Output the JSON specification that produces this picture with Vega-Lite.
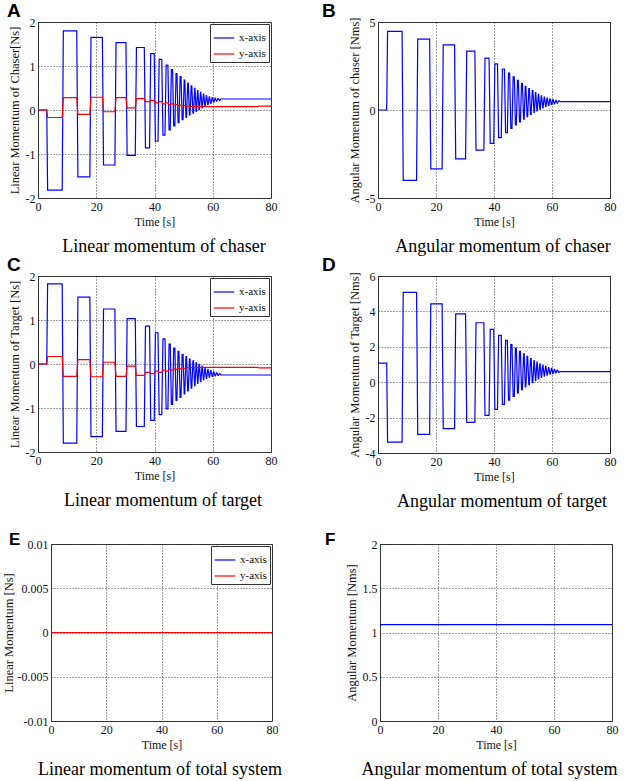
{
"$schema": "https://vega.github.io/schema/vega-lite/v6.json",
"padding": {"left": 1, "top": 1, "right": 0, "bottom": 0},
"background": "white",
"datasets": {
"A_x": [{"t":0,"v":0},{"t":3,"v":0},{"t":3.3,"v":-1.82},{"t":8.3,"v":-1.82},{"t":8.7,"v":1.8},{"t":13.3,"v":1.8},{"t":13.7,"v":-1.52},{"t":17.8,"v":-1.52},{"t":18.2,"v":1.65},{"t":22.1,"v":1.65},{"t":22.5,"v":-1.25},{"t":26.4,"v":-1.25},{"t":26.8,"v":1.53},{"t":30.2,"v":1.53},{"t":30.6,"v":-1.03},{"t":33.4,"v":-1.03},{"t":33.8,"v":1.42},{"t":36.5,"v":1.42},{"t":36.9,"v":-0.86},{"t":38.3,"v":-0.86},{"t":38.7,"v":1.28},{"t":39.9,"v":1.28},{"t":40.3,"v":-0.71},{"t":41.2,"v":-0.71},{"t":41.6,"v":1.15},{"t":42.5,"v":1.15},{"t":42.9,"v":-0.57},{"t":43.6,"v":-0.57},{"t":44,"v":1.02},{"t":44.6,"v":1.02},{"t":45,"v":-0.45},{"t":45.4,"v":-0.45},{"t":45.8,"v":0.92},{"t":46.2,"v":0.92},{"t":46.6,"v":-0.36},{"t":47,"v":-0.36},{"t":47.4,"v":0.83},{"t":47.7,"v":0.83},{"t":48.1,"v":-0.29},{"t":48.4,"v":-0.29},{"t":48.8,"v":0.76},{"t":49.1,"v":0.76},{"t":49.5,"v":-0.22},{"t":49.8,"v":-0.22},{"t":50.2,"v":0.68},{"t":50.4,"v":0.68},{"t":50.8,"v":-0.17},{"t":51,"v":-0.17},{"t":51.4,"v":0.61},{"t":51.6,"v":0.61},{"t":52,"v":-0.11},{"t":52.2,"v":-0.11},{"t":52.6,"v":0.55},{"t":52.8,"v":0.55},{"t":53.2,"v":-0.07},{"t":53.4,"v":-0.07},{"t":53.8,"v":0.49},{"t":53.9,"v":0.49},{"t":54.3,"v":-0.03},{"t":54.4,"v":-0.03},{"t":54.8,"v":0.44},{"t":54.9,"v":0.44},{"t":55.3,"v":0.01},{"t":55.4,"v":0.01},{"t":55.8,"v":0.4},{"t":55.9,"v":0.4},{"t":56.3,"v":0.05},{"t":56.4,"v":0.05},{"t":56.8,"v":0.36},{"t":56.9,"v":0.36},{"t":57.3,"v":0.09},{"t":57.4,"v":0.09},{"t":57.8,"v":0.33},{"t":57.9,"v":0.33},{"t":58.3,"v":0.12},{"t":58.4,"v":0.12},{"t":58.8,"v":0.3},{"t":58.9,"v":0.3},{"t":59.3,"v":0.15},{"t":59.4,"v":0.15},{"t":59.8,"v":0.28},{"t":59.9,"v":0.28},{"t":60.3,"v":0.18},{"t":60.4,"v":0.18},{"t":60.8,"v":0.27},{"t":60.9,"v":0.27},{"t":61.3,"v":0.2},{"t":61.4,"v":0.2},{"t":61.8,"v":0.26},{"t":61.9,"v":0.26},{"t":62.3,"v":0.22},{"t":62.4,"v":0.22},{"t":62.8,"v":0.25},{"t":80,"v":0.25}],
"A_y": [{"t":0,"v":0},{"t":3,"v":0},{"t":3.3,"v":-0.17},{"t":8.3,"v":-0.17},{"t":8.7,"v":0.28},{"t":13.3,"v":0.28},{"t":13.7,"v":-0.1},{"t":17.8,"v":-0.1},{"t":18.2,"v":0.29},{"t":22.1,"v":0.29},{"t":22.5,"v":-0.04},{"t":26.4,"v":-0.04},{"t":26.8,"v":0.28},{"t":30.2,"v":0.28},{"t":30.6,"v":0.05},{"t":33.4,"v":0.05},{"t":33.8,"v":0.26},{"t":36.5,"v":0.26},{"t":36.9,"v":0.19},{"t":38.3,"v":0.19},{"t":38.7,"v":0.22},{"t":39.9,"v":0.22},{"t":40.3,"v":0.16},{"t":41.2,"v":0.16},{"t":41.6,"v":0.19},{"t":42.5,"v":0.19},{"t":42.9,"v":0.14},{"t":43.6,"v":0.14},{"t":44,"v":0.16},{"t":44.6,"v":0.16},{"t":45,"v":0.12},{"t":45.4,"v":0.12},{"t":45.8,"v":0.14},{"t":46.2,"v":0.14},{"t":46.6,"v":0.11},{"t":47,"v":0.11},{"t":47.4,"v":0.12},{"t":47.7,"v":0.12},{"t":48.1,"v":0.1},{"t":48.4,"v":0.1},{"t":48.8,"v":0.11},{"t":49.1,"v":0.11},{"t":49.5,"v":0.09},{"t":49.8,"v":0.09},{"t":50.2,"v":0.1},{"t":50.4,"v":0.1},{"t":50.8,"v":0.085},{"t":51,"v":0.085},{"t":52,"v":0.08},{"t":60,"v":0.075},{"t":75.5,"v":0.075},{"t":75.8,"v":0.09},{"t":80,"v":0.09}],
"B": [{"t":0,"v":0},{"t":3,"v":0},{"t":3.3,"v":4.47},{"t":8.3,"v":4.47},{"t":8.7,"v":-4},{"t":13.3,"v":-4},{"t":13.7,"v":4.03},{"t":17.8,"v":4.03},{"t":18.2,"v":-3.35},{"t":22.1,"v":-3.35},{"t":22.5,"v":3.7},{"t":26.4,"v":3.7},{"t":26.8,"v":-2.78},{"t":30.2,"v":-2.78},{"t":30.6,"v":3.35},{"t":33.4,"v":3.35},{"t":33.8,"v":-2.28},{"t":36.5,"v":-2.28},{"t":36.9,"v":2.95},{"t":38.3,"v":2.95},{"t":38.7,"v":-1.9},{"t":39.9,"v":-1.9},{"t":40.3,"v":2.62},{"t":41.2,"v":2.62},{"t":41.6,"v":-1.57},{"t":42.5,"v":-1.57},{"t":42.9,"v":2.33},{"t":43.6,"v":2.33},{"t":44,"v":-1.29},{"t":44.6,"v":-1.29},{"t":45,"v":2.1},{"t":45.4,"v":2.1},{"t":45.8,"v":-1.04},{"t":46.2,"v":-1.04},{"t":46.6,"v":1.88},{"t":47,"v":1.88},{"t":47.4,"v":-0.85},{"t":47.7,"v":-0.85},{"t":48.1,"v":1.68},{"t":48.4,"v":1.68},{"t":48.8,"v":-0.67},{"t":49.1,"v":-0.67},{"t":49.5,"v":1.5},{"t":49.8,"v":1.5},{"t":50.2,"v":-0.52},{"t":50.4,"v":-0.52},{"t":50.8,"v":1.35},{"t":51,"v":1.35},{"t":51.4,"v":-0.38},{"t":51.6,"v":-0.38},{"t":52,"v":1.22},{"t":52.2,"v":1.22},{"t":52.6,"v":-0.25},{"t":52.8,"v":-0.25},{"t":53.2,"v":1.1},{"t":53.4,"v":1.1},{"t":53.8,"v":-0.14},{"t":53.9,"v":-0.14},{"t":54.3,"v":0.99},{"t":54.4,"v":0.99},{"t":54.8,"v":-0.05},{"t":54.9,"v":-0.05},{"t":55.3,"v":0.89},{"t":55.4,"v":0.89},{"t":55.8,"v":0.04},{"t":55.9,"v":0.04},{"t":56.3,"v":0.81},{"t":56.4,"v":0.81},{"t":56.8,"v":0.12},{"t":56.9,"v":0.12},{"t":57.3,"v":0.74},{"t":57.4,"v":0.74},{"t":57.8,"v":0.19},{"t":57.9,"v":0.19},{"t":58.3,"v":0.68},{"t":58.4,"v":0.68},{"t":58.8,"v":0.25},{"t":58.9,"v":0.25},{"t":59.3,"v":0.63},{"t":59.4,"v":0.63},{"t":59.8,"v":0.3},{"t":59.9,"v":0.3},{"t":60.3,"v":0.59},{"t":60.4,"v":0.59},{"t":60.8,"v":0.35},{"t":60.9,"v":0.35},{"t":61.3,"v":0.55},{"t":61.4,"v":0.55},{"t":61.8,"v":0.39},{"t":61.9,"v":0.39},{"t":62.3,"v":0.52},{"t":62.4,"v":0.52},{"t":62.8,"v":0.48},{"t":80,"v":0.48}],
"C_x": [{"t":0,"v":0},{"t":3,"v":0},{"t":3.3,"v":1.82},{"t":8.3,"v":1.82},{"t":8.7,"v":-1.8},{"t":13.3,"v":-1.8},{"t":13.7,"v":1.52},{"t":17.8,"v":1.52},{"t":18.2,"v":-1.65},{"t":22.1,"v":-1.65},{"t":22.5,"v":1.25},{"t":26.4,"v":1.25},{"t":26.8,"v":-1.53},{"t":30.2,"v":-1.53},{"t":30.6,"v":1.03},{"t":33.4,"v":1.03},{"t":33.8,"v":-1.42},{"t":36.5,"v":-1.42},{"t":36.9,"v":0.86},{"t":38.3,"v":0.86},{"t":38.7,"v":-1.28},{"t":39.9,"v":-1.28},{"t":40.3,"v":0.71},{"t":41.2,"v":0.71},{"t":41.6,"v":-1.15},{"t":42.5,"v":-1.15},{"t":42.9,"v":0.57},{"t":43.6,"v":0.57},{"t":44,"v":-1.02},{"t":44.6,"v":-1.02},{"t":45,"v":0.45},{"t":45.4,"v":0.45},{"t":45.8,"v":-0.92},{"t":46.2,"v":-0.92},{"t":46.6,"v":0.36},{"t":47,"v":0.36},{"t":47.4,"v":-0.83},{"t":47.7,"v":-0.83},{"t":48.1,"v":0.29},{"t":48.4,"v":0.29},{"t":48.8,"v":-0.76},{"t":49.1,"v":-0.76},{"t":49.5,"v":0.22},{"t":49.8,"v":0.22},{"t":50.2,"v":-0.68},{"t":50.4,"v":-0.68},{"t":50.8,"v":0.17},{"t":51,"v":0.17},{"t":51.4,"v":-0.61},{"t":51.6,"v":-0.61},{"t":52,"v":0.11},{"t":52.2,"v":0.11},{"t":52.6,"v":-0.55},{"t":52.8,"v":-0.55},{"t":53.2,"v":0.07},{"t":53.4,"v":0.07},{"t":53.8,"v":-0.49},{"t":53.9,"v":-0.49},{"t":54.3,"v":0.03},{"t":54.4,"v":0.03},{"t":54.8,"v":-0.44},{"t":54.9,"v":-0.44},{"t":55.3,"v":-0.01},{"t":55.4,"v":-0.01},{"t":55.8,"v":-0.4},{"t":55.9,"v":-0.4},{"t":56.3,"v":-0.05},{"t":56.4,"v":-0.05},{"t":56.8,"v":-0.36},{"t":56.9,"v":-0.36},{"t":57.3,"v":-0.09},{"t":57.4,"v":-0.09},{"t":57.8,"v":-0.33},{"t":57.9,"v":-0.33},{"t":58.3,"v":-0.12},{"t":58.4,"v":-0.12},{"t":58.8,"v":-0.3},{"t":58.9,"v":-0.3},{"t":59.3,"v":-0.15},{"t":59.4,"v":-0.15},{"t":59.8,"v":-0.28},{"t":59.9,"v":-0.28},{"t":60.3,"v":-0.18},{"t":60.4,"v":-0.18},{"t":60.8,"v":-0.27},{"t":60.9,"v":-0.27},{"t":61.3,"v":-0.2},{"t":61.4,"v":-0.2},{"t":61.8,"v":-0.26},{"t":61.9,"v":-0.26},{"t":62.3,"v":-0.22},{"t":62.4,"v":-0.22},{"t":62.8,"v":-0.25},{"t":80,"v":-0.25}],
"C_y": [{"t":0,"v":0},{"t":3,"v":0},{"t":3.3,"v":0.17},{"t":8.3,"v":0.17},{"t":8.7,"v":-0.28},{"t":13.3,"v":-0.28},{"t":13.7,"v":0.1},{"t":17.8,"v":0.1},{"t":18.2,"v":-0.29},{"t":22.1,"v":-0.29},{"t":22.5,"v":0.04},{"t":26.4,"v":0.04},{"t":26.8,"v":-0.28},{"t":30.2,"v":-0.28},{"t":30.6,"v":-0.05},{"t":33.4,"v":-0.05},{"t":33.8,"v":-0.26},{"t":36.5,"v":-0.26},{"t":36.9,"v":-0.19},{"t":38.3,"v":-0.19},{"t":38.7,"v":-0.22},{"t":39.9,"v":-0.22},{"t":40.3,"v":-0.16},{"t":41.2,"v":-0.16},{"t":41.6,"v":-0.19},{"t":42.5,"v":-0.19},{"t":42.9,"v":-0.14},{"t":43.6,"v":-0.14},{"t":44,"v":-0.16},{"t":44.6,"v":-0.16},{"t":45,"v":-0.12},{"t":45.4,"v":-0.12},{"t":45.8,"v":-0.14},{"t":46.2,"v":-0.14},{"t":46.6,"v":-0.11},{"t":47,"v":-0.11},{"t":47.4,"v":-0.12},{"t":47.7,"v":-0.12},{"t":48.1,"v":-0.1},{"t":48.4,"v":-0.1},{"t":48.8,"v":-0.11},{"t":49.1,"v":-0.11},{"t":49.5,"v":-0.09},{"t":49.8,"v":-0.09},{"t":50.2,"v":-0.1},{"t":50.4,"v":-0.1},{"t":50.8,"v":-0.085},{"t":51,"v":-0.085},{"t":52,"v":-0.08},{"t":60,"v":-0.075},{"t":75.5,"v":-0.075},{"t":75.8,"v":-0.09},{"t":80,"v":-0.09}],
"D": [{"t":0,"v":1.08},{"t":3,"v":1.08},{"t":3.3,"v":-3.39},{"t":8.3,"v":-3.39},{"t":8.7,"v":5.08},{"t":13.3,"v":5.08},{"t":13.7,"v":-2.95},{"t":17.8,"v":-2.95},{"t":18.2,"v":4.43},{"t":22.1,"v":4.43},{"t":22.5,"v":-2.62},{"t":26.4,"v":-2.62},{"t":26.8,"v":3.86},{"t":30.2,"v":3.86},{"t":30.6,"v":-2.27},{"t":33.4,"v":-2.27},{"t":33.8,"v":3.36},{"t":36.5,"v":3.36},{"t":36.9,"v":-1.87},{"t":38.3,"v":-1.87},{"t":38.7,"v":2.98},{"t":39.9,"v":2.98},{"t":40.3,"v":-1.54},{"t":41.2,"v":-1.54},{"t":41.6,"v":2.65},{"t":42.5,"v":2.65},{"t":42.9,"v":-1.25},{"t":43.6,"v":-1.25},{"t":44,"v":2.37},{"t":44.6,"v":2.37},{"t":45,"v":-1.02},{"t":45.4,"v":-1.02},{"t":45.8,"v":2.12},{"t":46.2,"v":2.12},{"t":46.6,"v":-0.8},{"t":47,"v":-0.8},{"t":47.4,"v":1.93},{"t":47.7,"v":1.93},{"t":48.1,"v":-0.6},{"t":48.4,"v":-0.6},{"t":48.8,"v":1.75},{"t":49.1,"v":1.75},{"t":49.5,"v":-0.42},{"t":49.8,"v":-0.42},{"t":50.2,"v":1.6},{"t":50.4,"v":1.6},{"t":50.8,"v":-0.27},{"t":51,"v":-0.27},{"t":51.4,"v":1.46},{"t":51.6,"v":1.46},{"t":52,"v":-0.14},{"t":52.2,"v":-0.14},{"t":52.6,"v":1.33},{"t":52.8,"v":1.33},{"t":53.2,"v":-0.02},{"t":53.4,"v":-0.02},{"t":53.8,"v":1.22},{"t":53.9,"v":1.22},{"t":54.3,"v":0.09},{"t":54.4,"v":0.09},{"t":54.8,"v":1.13},{"t":54.9,"v":1.13},{"t":55.3,"v":0.19},{"t":55.4,"v":0.19},{"t":55.8,"v":1.04},{"t":55.9,"v":1.04},{"t":56.3,"v":0.27},{"t":56.4,"v":0.27},{"t":56.8,"v":0.96},{"t":56.9,"v":0.96},{"t":57.3,"v":0.34},{"t":57.4,"v":0.34},{"t":57.8,"v":0.89},{"t":57.9,"v":0.89},{"t":58.3,"v":0.4},{"t":58.4,"v":0.4},{"t":58.8,"v":0.83},{"t":58.9,"v":0.83},{"t":59.3,"v":0.45},{"t":59.4,"v":0.45},{"t":59.8,"v":0.78},{"t":59.9,"v":0.78},{"t":60.3,"v":0.49},{"t":60.4,"v":0.49},{"t":60.8,"v":0.73},{"t":60.9,"v":0.73},{"t":61.3,"v":0.53},{"t":61.4,"v":0.53},{"t":61.8,"v":0.69},{"t":61.9,"v":0.69},{"t":62.3,"v":0.56},{"t":62.4,"v":0.56},{"t":62.8,"v":0.6},{"t":80,"v":0.6}],
"E_x": [{"t":0,"v":0},{"t":80,"v":0}],
"E_y": [{"t":0,"v":0},{"t":80,"v":0}],
"F": [{"t":0,"v":1.09},{"t":80,"v":1.09}],
"none": []
},
"config": {
"view": {"stroke": "#3a3a3a", "strokeWidth": 1},
"axis": {"labelFont": "Liberation Serif", "labelFontSize": 12, "labelColor": "#111", "titleFont": "Liberation Serif", "titleFontSize": 12, "titleFontWeight": "normal", "titleColor": "#111", "grid": true, "gridColor": "#222", "gridDash": [1, 2], "gridOpacity": 0.85, "domain": false, "ticks": false, "labelPadding": 3, "titlePadding": 4, "labelFlush": false, "labelOverlap": false, "labelBound": false},
"axisY": {"titleFontSize": 12.5},
"legend": {"orient": "top-right", "offset": 2, "fillColor": "white", "strokeColor": "#333", "padding": 3, "symbolType": "stroke", "symbolSize": 420, "symbolStrokeWidth": 1.5, "labelFont": "Liberation Serif", "labelFontSize": 11, "labelColor": "#111", "rowPadding": 0, "title": null},
"line": {"strokeWidth": 1.2},
"title": {"font": "Liberation Serif", "fontWeight": "normal", "color": "#000"}
},
"columns": 1,
"align": "none",
"spacing": 19,
"resolve": {"scale": {"color": "independent"}, "legend": {"color": "independent"}},
"concat": [
{"columns": 1, "align": "none", "spacing": -1, "resolve": {"scale": {"color": "independent"}, "legend": {"color": "independent"}},
 "concat": [
  {"spacing": 43, "resolve": {"scale": {"color": "independent"}, "legend": {"color": "independent"}},
   "hconcat": [
    {"title": {"text": "Linear momentum of chaser", "orient": "bottom", "frame": "bounds", "anchor": "middle", "dx": 22, "offset": 10, "fontSize": 18},
     "resolve": {"scale": {"color": "independent"}, "legend": {"color": "independent"}},
     "vconcat": [{
      "title": {"text": "A", "anchor": "start", "frame": "group", "dx": -31, "offset": -5, "font": "Liberation Sans", "fontSize": 19, "fontWeight": "bold"},
      "width": 233, "height": 176,
      "encoding": {
       "x": {"field": "t", "type": "quantitative", "scale": {"domain": [0, 80], "nice": false}, "axis": {"values": [0, 20, 40, 60, 80], "title": "Time [s]", "labelExpr": "'' + datum.value"}},
       "y": {"field": "v", "type": "quantitative", "scale": {"domain": [-2, 2], "nice": false}, "axis": {"values": [-2, -1, 0, 1, 2], "title": "Linear Momentum of Chaser[Ns]", "labelExpr": "'' + datum.value"}}
      },
      "layer": [
       {"data": {"name": "A_x"}, "mark": {"type": "line"}, "encoding": {"color": {"datum": "x-axis", "type": "nominal", "scale": {"domain": ["x-axis", "y-axis"], "range": ["#0000ff", "#ff0000"]}}}},
       {"data": {"name": "A_y"}, "mark": {"type": "line"}, "encoding": {"color": {"datum": "y-axis", "type": "nominal"}}}
      ]
     }]
    },
    {"title": {"text": "Angular momentum of chaser", "orient": "bottom", "frame": "bounds", "anchor": "middle", "dx": 34, "offset": 10, "fontSize": 18},
     "resolve": {"scale": {"color": "independent"}, "legend": {"color": "independent"}},
     "vconcat": [{
      "title": {"text": "B", "anchor": "start", "frame": "group", "dx": -56, "offset": -5, "font": "Liberation Sans", "fontSize": 19, "fontWeight": "bold"},
      "width": 232, "height": 176,
      "data": {"name": "B"},
      "mark": {"type": "line", "color": "#0000ff"},
      "encoding": {
       "x": {"field": "t", "type": "quantitative", "scale": {"domain": [0, 80], "nice": false}, "axis": {"values": [0, 20, 40, 60, 80], "title": "Time [s]", "labelExpr": "'' + datum.value"}},
       "y": {"field": "v", "type": "quantitative", "scale": {"domain": [-5, 5], "nice": false}, "axis": {"values": [-5, 0, 5], "title": "Angular Momentum of chaser [Nms]", "labelExpr": "'' + datum.value"}}
      }
     }]
    }
   ]
  },
  {"spacing": 43, "resolve": {"scale": {"color": "independent"}, "legend": {"color": "independent"}},
   "hconcat": [
    {"title": {"text": "Linear momentum of target", "orient": "bottom", "frame": "bounds", "anchor": "middle", "dx": 21, "offset": 10, "fontSize": 18},
     "resolve": {"scale": {"color": "independent"}, "legend": {"color": "independent"}},
     "vconcat": [{
      "title": {"text": "C", "anchor": "start", "frame": "group", "dx": -31, "offset": -5, "font": "Liberation Sans", "fontSize": 19, "fontWeight": "bold"},
      "width": 233, "height": 176,
      "encoding": {
       "x": {"field": "t", "type": "quantitative", "scale": {"domain": [0, 80], "nice": false}, "axis": {"values": [0, 20, 40, 60, 80], "title": "Time [s]", "labelExpr": "'' + datum.value"}},
       "y": {"field": "v", "type": "quantitative", "scale": {"domain": [-2, 2], "nice": false}, "axis": {"values": [-2, -1, 0, 1, 2], "title": "Linear Momentum of Target [Ns]", "labelExpr": "'' + datum.value"}}
      },
      "layer": [
       {"data": {"name": "C_x"}, "mark": {"type": "line"}, "encoding": {"color": {"datum": "x-axis", "type": "nominal", "scale": {"domain": ["x-axis", "y-axis"], "range": ["#0000ff", "#ff0000"]}}}},
       {"data": {"name": "C_y"}, "mark": {"type": "line"}, "encoding": {"color": {"datum": "y-axis", "type": "nominal"}}}
      ]
     }]
    },
    {"title": {"text": "Angular momentum of target", "orient": "bottom", "frame": "bounds", "anchor": "middle", "dx": 33, "offset": 10, "fontSize": 18},
     "resolve": {"scale": {"color": "independent"}, "legend": {"color": "independent"}},
     "vconcat": [{
      "title": {"text": "D", "anchor": "start", "frame": "group", "dx": -56, "offset": -5, "font": "Liberation Sans", "fontSize": 19, "fontWeight": "bold"},
      "width": 232, "height": 177,
      "data": {"name": "D"},
      "mark": {"type": "line", "color": "#0000ff"},
      "encoding": {
       "x": {"field": "t", "type": "quantitative", "scale": {"domain": [0, 80], "nice": false}, "axis": {"values": [0, 20, 40, 60, 80], "title": "Time [s]", "labelExpr": "'' + datum.value"}},
       "y": {"field": "v", "type": "quantitative", "scale": {"domain": [-4, 6], "nice": false}, "axis": {"values": [-4, -2, 0, 2, 4, 6], "title": "Angular Momentum of Target [Nms]", "labelExpr": "'' + datum.value"}}
      }
     }]
    }
   ]
  }
 ]
},
{"spacing": 42, "resolve": {"scale": {"color": "independent"}, "legend": {"color": "independent"}},
 "hconcat": [
  {"spacing": -38, "resolve": {"scale": {"color": "independent"}, "legend": {"color": "independent"}},
   "hconcat": [
    {"width": 1, "height": 177, "view": {"stroke": null}, "data": {"name": "none"}, "mark": {"type": "point"}, "encoding": {}},
    {"title": {"text": "Linear momentum of total system", "orient": "bottom", "frame": "bounds", "anchor": "middle", "dx": 20, "offset": 10, "fontSize": 18},
     "resolve": {"scale": {"color": "independent"}, "legend": {"color": "independent"}},
     "vconcat": [{
      "title": {"text": "E", "anchor": "start", "frame": "group", "dx": -42, "offset": -11, "font": "Liberation Sans", "fontSize": 17, "fontWeight": "bold"},
      "width": 221, "height": 177,
      "encoding": {
       "x": {"field": "t", "type": "quantitative", "scale": {"domain": [0, 80], "nice": false}, "axis": {"values": [0, 20, 40, 60, 80], "title": "Time [s]", "labelExpr": "'' + datum.value"}},
       "y": {"field": "v", "type": "quantitative", "scale": {"domain": [-0.01, 0.01], "nice": false}, "axis": {"values": [-0.01, -0.005, 0, 0.005, 0.01], "title": "Linear Momentum [Ns]", "titlePadding": 2, "labelExpr": "'' + datum.value"}}
      },
      "layer": [
       {"data": {"name": "E_x"}, "mark": {"type": "line"}, "encoding": {"color": {"datum": "x-axis", "type": "nominal", "scale": {"domain": ["x-axis", "y-axis"], "range": ["#0000ff", "#ff0000"]}}}},
       {"data": {"name": "E_y"}, "mark": {"type": "line"}, "encoding": {"color": {"datum": "y-axis", "type": "nominal"}}}
      ]
     }]
    }
   ]
  },
  {"title": {"text": "Angular momentum of total system", "orient": "bottom", "frame": "bounds", "anchor": "middle", "dx": 18, "offset": 10, "fontSize": 18},
   "resolve": {"scale": {"color": "independent"}, "legend": {"color": "independent"}},
   "vconcat": [{
    "title": {"text": "F", "anchor": "start", "frame": "group", "dx": -55, "offset": -11, "font": "Liberation Sans", "fontSize": 17, "fontWeight": "bold"},
    "width": 232, "height": 177,
    "data": {"name": "F"},
    "mark": {"type": "line", "color": "#0000ff"},
    "encoding": {
     "x": {"field": "t", "type": "quantitative", "scale": {"domain": [0, 80], "nice": false}, "axis": {"values": [0, 20, 40, 60, 80], "title": "Time [s]", "labelExpr": "'' + datum.value"}},
     "y": {"field": "v", "type": "quantitative", "scale": {"domain": [0, 2], "nice": false}, "axis": {"values": [0, 0.5, 1, 1.5, 2], "title": "Angular Momentum [Nms]", "labelExpr": "'' + datum.value"}}
    }
   }]
  }
 ]
}
]
}
